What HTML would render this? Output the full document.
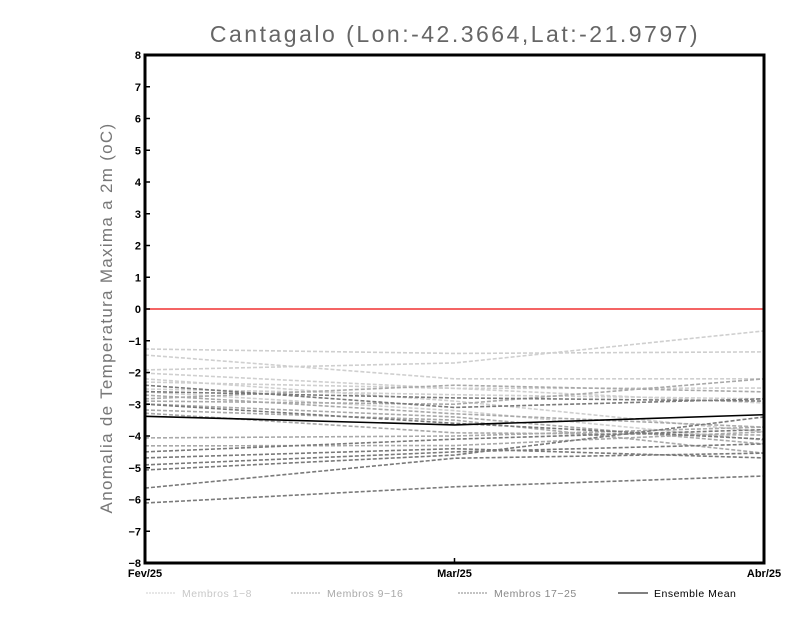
<!DOCTYPE html>
<html><head><meta charset="utf-8"><style>
body{margin:0;background:#fff;width:800px;height:618px;overflow:hidden}
svg{display:block}
text{font-family:"Liberation Sans",sans-serif}
</style></head><body>
<svg id="chart" width="800" height="618"></svg>
<script>
const months=["Fev/25","Mar/25","Abr/25"];
const yTicks=[-8,-7,-6,-5,-4,-3,-2,-1,0,1,2,3,4,5,6,7,8];
const membersStart=[-1.26,-1.45,-1.92,-2.02,-2.2,-2.3,-2.52,-2.61,-2.71,-2.83,-2.9,-2.99,-3.18,-3.28,-4.06,-4.31,-4.69,-4.91,-5.07,-5.64,-6.11,-2.6,-3.0,-4.5,-2.4];
const membersMid=[-1.4,-2.2,-1.7,-2.5,-2.9,-2.5,-2.7,-3.2,-3.3,-2.4,-3.0,-3.4,-3.5,-3.9,-4.0,-4.3,-4.4,-4.5,-4.6,-4.7,-5.6,-2.8,-3.6,-4.1,-3.1];
const membersEnd=[-1.35,-2.2,-0.69,-2.96,-3.87,-2.49,-2.83,-4.13,-3.72,-2.61,-2.2,-4.25,-4.54,-3.97,-3.72,-3.87,-4.69,-4.25,-3.4,-4.54,-5.26,-2.9,-4.1,-3.8,-2.83];
const memberGroup=[0,0,0,0,0,0,0,0,1,1,1,1,1,1,1,1,2,2,2,2,2,2,2,2,2];
const meanValues=[-3.38,-3.65,-3.33];
const groupColors=["#cfcfcf","#a9a9a9","#7a7a7a"];
const NS="http://www.w3.org/2000/svg";
const svg=document.getElementById('chart');
const X0=145,X1=764,Y0=563,Y1=55;
const xs=i=>X0+(X1-X0)*i/(months.length-1);
const ys=v=>Y0-(v+8)/16*(Y0-Y1);
function mk(t,a,p){const e=document.createElementNS(NS,t);for(const k in a)e.setAttribute(k,a[k]);(p||svg).appendChild(e);return e;}
let t=mk('text',{x:455,y:42,'text-anchor':'middle','font-size':23,fill:'#666','letter-spacing':'2.5'});t.textContent="Cantagalo (Lon:-42.3664,Lat:-21.9797)";


t=mk('text',{x:0,y:0,'text-anchor':'middle','font-size':17,fill:'#777',transform:'translate(112,318) rotate(-90)','letter-spacing':'1.3'});t.textContent="Anomalia de Temperatura Maxima a 2m (oC)";


membersStart.forEach((s,i)=>{
 const vals=[s,membersMid[i],membersEnd[i]];
 const p=mk('polyline',{points:vals.map((v,j)=>xs(j)+','+ys(v)).join(' '),fill:'none',stroke:groupColors[memberGroup[i]],'stroke-width':1.6,'stroke-dasharray':'4,2'});
 
 
});
let z=mk('line',{x1:X0,x2:X1,y1:ys(0),y2:ys(0),stroke:'#f03030','stroke-width':1.5});


let m=mk('polyline',{points:meanValues.map((v,j)=>xs(j)+','+ys(v)).join(' '),fill:'none',stroke:'#000','stroke-width':1.6});


let f=mk('rect',{x:X0,y:Y1,width:X1-X0,height:Y0-Y1,fill:'none',stroke:'#000','stroke-width':3});


yTicks.forEach(v=>{
 mk('line',{x1:X0,x2:X0+5,y1:ys(v),y2:ys(v),stroke:'#000','stroke-width':1.5});
 const l=mk('text',{x:X0-4,y:ys(v)+4,'text-anchor':'end','font-size':11,'font-weight':'bold'});l.textContent=v<0?'\u2212'+(-v):v;
 
 
});
months.forEach((mo,j)=>{
 mk('line',{x1:xs(j),x2:xs(j),y1:Y0,y2:Y0-5,stroke:'#000','stroke-width':1.5});
 const l=mk('text',{x:xs(j),y:Y0+14,'text-anchor':'middle','font-size':11,'font-weight':'bold'});l.textContent=mo;
 
 
});
const legLabels=["Membros 1\u22128","Membros 9\u221216","Membros 17\u221225","Ensemble Mean"];
const legX=[146,291,458,618];
const legCol=["#cfcfcf","#a9a9a9","#878787","#000"];
const legText=["#c8c8c8","#a9a9a9","#888","#000"];
legLabels.forEach((lab,i)=>{
 const g=mk('g',{});
 
 
 mk('line',{x1:legX[i],x2:legX[i]+30,y1:593,y2:593,stroke:legCol[i],'stroke-width':1,'stroke-dasharray':i<3?'2,1':''},g);
 const l=mk('text',{x:legX[i]+36,y:597,'font-size':10.5,fill:legText[i],'letter-spacing':'0.5'},g);l.textContent=lab;
});
</script>
</body></html>
